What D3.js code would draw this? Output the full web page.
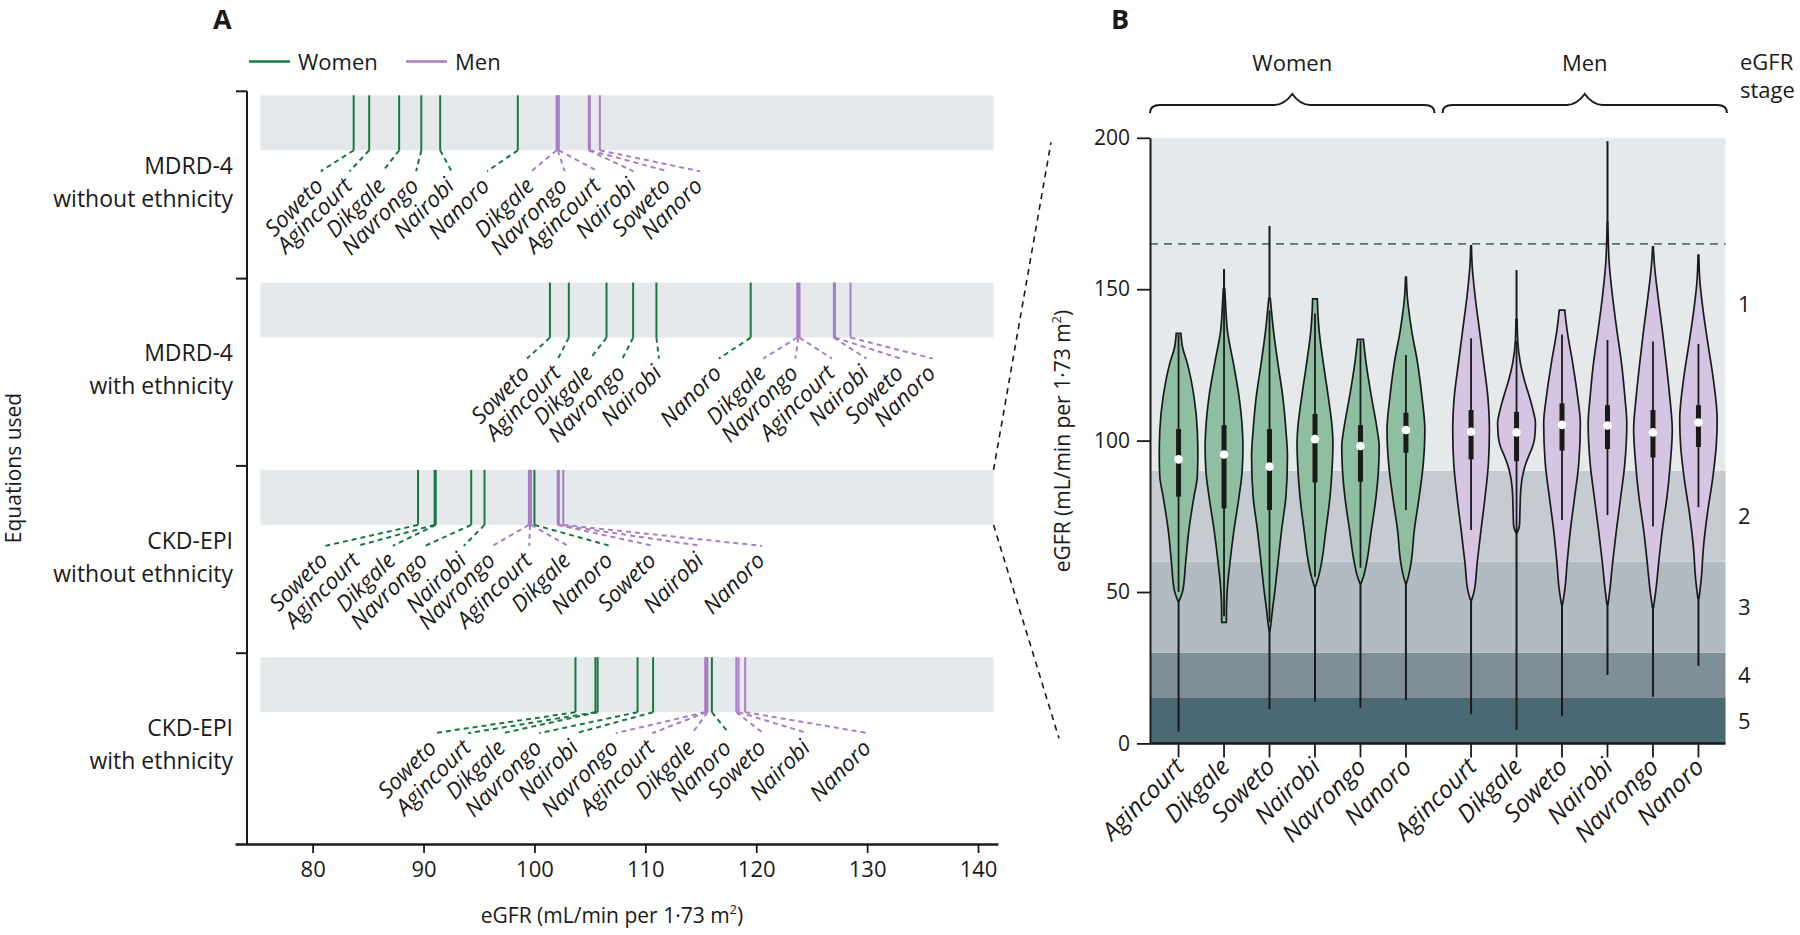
<!DOCTYPE html>
<html><head><meta charset="utf-8">
<script src="https://cdn.jsdelivr.net/npm/d3@7"></script>
<style>
body{margin:0;background:#fff}
svg text{font-family:'Open Sans','Noto Sans',sans-serif;fill:#1a1a1a}
</style></head>
<body><svg id="c" width="1800" height="935"></svg>
<script>
// ---------------- DATA ----------------
const equationLines = [["MDRD-4","without ethnicity"],["MDRD-4","with ethnicity"],["CKD-EPI","without ethnicity"],["CKD-EPI","with ethnicity"]];
const siteNames = ["Agincourt","Dikgale","Soweto","Nairobi","Navrongo","Nanoro"];
const sexNames = ["Women","Men"];
const xTicksA = [80,90,100,110,120,130,140];
// Panel A: mean eGFR per site (order = siteNames), one row per equation
const womenMeanA = [
  [85.1, 87.8, 83.7, 91.5, 89.8, 98.5],
  [103.1,106.5,101.4,111.0,108.9,119.5],
  [91.0, 91.1, 89.5, 95.5, 94.3, 100.0],
  [105.5,105.7,103.7,110.7,109.3,116.0]
];
const menMeanA = [
  [102.2,102.0,105.0,104.9,102.1,105.9],
  [123.9,123.7,127.1,127.0,123.8,128.5],
  [99.6, 99.7, 102.1,102.2,99.5, 102.6],
  [115.5,115.6,118.2,118.4,115.4,119.0]
];
// where each label sits (eGFR units), in ascending order of value
const labelAnchorA = [
  [81.0,83.6,86.6,89.6,92.8,96.0,100.0,103.0,106.0,109.2,112.3,115.2],
  [99.6,102.4,105.3,108.2,111.5,116.9,120.9,123.8,127.1,130.2,133.3,136.2],
  [81.4,84.3,87.5,90.4,93.9,96.5,99.8,103.3,107.1,111.0,115.3,120.8],
  [91.2,94.3,97.4,100.7,104.0,107.6,110.9,114.5,117.8,120.9,124.9,130.4]
];
// Panel B: CKD-EPI without ethnicity distributions (order = siteNames)
const yTicksB = [0,50,100,150,200];
const stageBreaks = [0,15,30,60,90,200];
const stageNames = ["5","4","3","2","1"];
const hyperfiltration = 165;
const womenMedian = [93.8,95.4,91.4,100.5,98.2,103.5];
const womenQ1 = [81.5,77.6,77.1,86.2,86.4,96.0];
const womenQ3 = [103.8,105.1,103.8,108.8,105.1,109.2];
const womenWhiskLo = [50,42,40,55,58,77.1];
const womenWhiskHi = [135,156.6,143,142,133,128.3];
const womenMin = [3.9,40,11.3,13.8,11.8,14.3];
const womenMax = [135.4,156.6,170.9,146.8,133.4,154.1];
const menMedian = [102.9,102.7,105.2,105.0,102.7,106.0];
const menQ1 = [93.8,93.2,96.7,97.2,94.4,97.9];
const menQ3 = [110.1,109.5,112.3,111.7,110.1,111.7];
const menWhiskLo = [70.5,69.5,73.8,75.4,71.6,78];
const menWhiskHi = [133.8,133,135,133.2,132.7,131.9];
const menMin = [9.6,4.4,9.0,22.6,15.4,25.6];
const menMax = [164.6,156.3,143.1,198.9,164,161.6];
// violin outlines: [eGFR, relative density]
const womenProfiles = [
  [[135.4,0.12],[131,0.2],[125.5,0.45],[114.5,0.79],[103.5,0.96],[95,0.99],[88,0.96],[81.5,0.79],[70.5,0.53],[59.5,0.36],[50.6,0.22],[48,0.09],[47,0.02]],
  [[150,0.04],[145,0.08],[136.5,0.17],[125.5,0.48],[114.5,0.77],[103.5,0.94],[98,0.97],[90,0.93],[81.5,0.77],[70.5,0.51],[59.5,0.3],[52,0.18],[46,0.13],[40,0.12]],
  [[147,0.04],[136.5,0.2],[125.5,0.43],[114.5,0.68],[103.5,0.84],[94.7,0.92],[81.5,0.84],[70.5,0.62],[59.5,0.43],[50.6,0.28],[44,0.15],[40,0.08],[37,0.02]],
  [[146.8,0.12],[142,0.15],[136.5,0.21],[125.5,0.43],[114.5,0.68],[103.5,0.89],[99,0.92],[90,0.87],[81.5,0.77],[70.5,0.56],[59.5,0.33],[55,0.18],[52,0.04]],
  [[133.4,0.15],[125.5,0.29],[114.5,0.56],[103.5,0.86],[98,0.96],[90,0.92],[81.5,0.8],[70.5,0.56],[59.5,0.31],[55,0.15],[53,0.04]],
  [[154,0.02],[147.5,0.07],[136.5,0.29],[125.5,0.6],[114.5,0.82],[103.5,0.97],[92.5,0.89],[81.5,0.68],[70.5,0.43],[59.5,0.26],[55,0.12],[53,0.03]]
];
const menProfiles = [
  [[164,0.02],[158.5,0.05],[147.5,0.21],[136.5,0.43],[125.5,0.65],[114.5,0.86],[103.5,0.94],[92.5,0.89],[81.5,0.72],[70.5,0.51],[59.5,0.31],[50.6,0.17],[47.5,0.04]],
  [[140,0.03],[133,0.06],[125.5,0.2],[120,0.4],[114.5,0.66],[110,0.85],[105.7,0.97],[101,0.93],[98,0.82],[95,0.63],[92.5,0.48],[88,0.3],[84,0.22],[78,0.18],[72,0.15],[69.4,0.02]],
  [[143.1,0.14],[136.5,0.26],[125.5,0.55],[114.5,0.8],[105.7,0.94],[92.5,0.86],[81.5,0.65],[70.5,0.43],[59.5,0.26],[50.6,0.14],[46,0.03]],
  [[172,0.02],[158.5,0.09],[147.5,0.26],[136.5,0.48],[125.5,0.72],[114.5,0.89],[105.7,0.99],[92.5,0.89],[81.5,0.68],[70.5,0.46],[59.5,0.26],[50.6,0.12],[46,0.03]],
  [[164,0.02],[158.5,0.07],[147.5,0.26],[136.5,0.48],[125.5,0.68],[114.5,0.86],[103.5,0.99],[92.5,0.89],[81.5,0.72],[70.5,0.48],[59.5,0.29],[50.6,0.15],[45,0.03]],
  [[161,0.02],[153,0.07],[142,0.26],[131,0.51],[120,0.77],[106.8,0.96],[98,0.91],[87,0.72],[76,0.46],[65,0.26],[54,0.14],[48,0.03]]
];

// ---------------- STYLE ----------------
const GREEN = "#17793f", PURPLE = "#a87fc4", BAND = "#e6e9ec";
const stageColors = ["#4b6973","#7e8f98","#b2bbc1","#c5cbd1","#e6e9ec"];
const violinFill = {Women:"#8fbfa3", Men:"#d5c5e3"};
const INK = "#1a1a1a";

const svg = d3.select("#c");

// ================= PANEL A =================
const xA = d3.scaleLinear().domain([73,141.8]).range([235,998]);
const rowBand = d3.scaleBand().domain(d3.range(4)).range([91.3,840.5]);
const bandH = 55, bandOff = 4, leadDrop = 21;
const A = svg.append("g");

A.append("text").attr("x",213).attr("y",29).attr("font-size",27).attr("font-weight",700).text("A");

// legend
const leg = A.append("g");
[["Women",GREEN,249],["Men",PURPLE,406]].forEach(([t,c,x])=>{
  leg.append("line").attr("x1",x).attr("x2",x+41).attr("y1",61.5).attr("y2",61.5).attr("stroke",c).attr("stroke-width",2.5);
  leg.append("text").attr("x",x+49).attr("y",69.5).attr("font-size",22).text(t);
});

equationLines.forEach((eq,i)=>{
  const top = rowBand(i)+bandOff, bot = top+bandH;
  A.append("rect").attr("x",xA(75.3)).attr("width",xA(141.4)-xA(75.3)).attr("y",top).attr("height",bandH).attr("fill",BAND);
  const items = siteNames.map((s,j)=>({site:s,sex:"Women",v:womenMeanA[i][j]}))
     .concat(siteNames.map((s,j)=>({site:s,sex:"Men",v:menMeanA[i][j]})))
     .sort((a,b)=>a.v-b.v);
  items.forEach((d,k)=>d.anchor = labelAnchorA[i][k]);
  const gi = A.append("g");
  gi.selectAll("line.lead").data(items).join("line")
    .attr("x1",d=>xA(d.v)).attr("y1",bot).attr("x2",d=>xA(d.anchor)-3).attr("y2",bot+leadDrop)
    .attr("stroke",d=>d.sex==="Women"?GREEN:PURPLE).attr("stroke-width",2).attr("stroke-dasharray","5,4");
  gi.selectAll("line.val").data(items).join("line")
    .attr("x1",d=>xA(d.v)).attr("x2",d=>xA(d.v)).attr("y1",top).attr("y2",bot)
    .attr("stroke",d=>d.sex==="Women"?GREEN:PURPLE).attr("stroke-width",2);
  gi.selectAll("text").data(items).join("text")
    .attr("transform",d=>`translate(${xA(d.anchor)+1},${bot+leadDrop+16}) rotate(-45)`)
    .attr("text-anchor","end").attr("font-size",22.5).attr("font-style","italic").text(d=>d.site);
  const cy = rowBand(i)+rowBand.bandwidth()/2;
  A.append("text").attr("x",233).attr("y",cy-11).attr("text-anchor","end").attr("font-size",23).text(eq[0]);
  A.append("text").attr("x",233).attr("y",cy+22).attr("text-anchor","end").attr("font-size",23).text(eq[1]);
});

// y axis of A
A.append("line").attr("x1",247).attr("x2",247).attr("y1",rowBand(0)).attr("y2",844).attr("stroke",INK).attr("stroke-width",2);
A.selectAll("line.yt").data(d3.range(4)).join("line").attr("class","yt")
  .attr("x1",236).attr("x2",247).attr("y1",d=>rowBand(d)).attr("y2",d=>rowBand(d)).attr("stroke",INK).attr("stroke-width",2);
A.append("text").attr("transform","translate(21,468) rotate(-90)").attr("text-anchor","middle").attr("font-size",21).text("Equations used");

// x axis of A
const axA = A.append("g").attr("transform","translate(0,844)")
  .call(d3.axisBottom(xA).tickValues(xTicksA).tickSize(9).tickSizeOuter(0).tickPadding(8));
axA.select(".domain").attr("stroke",INK).attr("stroke-width",2.5);
axA.selectAll(".tick line").attr("stroke",INK).attr("stroke-width",1.8);
axA.selectAll(".tick text").attr("font-size",22).attr("font-family","'Open Sans',sans-serif").attr("fill",INK);
const tA = A.append("text").attr("x",612).attr("y",923).attr("text-anchor","middle").attr("font-size",21);
tA.append("tspan").text("eGFR (mL/min per 1·73 m");
tA.append("tspan").attr("font-size",13).attr("dy",-9).text("2");
tA.append("tspan").attr("dy",9).text(")");

// ================= PANEL B =================
const plotL = 1150, plotR = 1725.5;
const yB = d3.scaleLinear().domain([0,200]).range([743.4,137.8]);
const groupX = d3.scaleBand().domain(sexNames).range([1146,1731]);
const siteX = d3.scalePoint().domain(siteNames).range([0,groupX.bandwidth()]).padding(0.716);
const wScale = d3.scaleLinear().domain([0,1]).range([0,19.5]);
const B = svg.append("g");
B.append("text").attr("x",1111).attr("y",29).attr("font-size",27).attr("font-weight",700).text("B");

// stage bands
stageNames.forEach((s,i)=>{
  B.append("rect").attr("x",plotL).attr("width",plotR-plotL)
    .attr("y",yB(stageBreaks[i+1])).attr("height",yB(stageBreaks[i])-yB(stageBreaks[i+1])).attr("fill",stageColors[i]);
  B.append("text").attr("x",1738).attr("y",(yB(stageBreaks[i])+yB(stageBreaks[i+1]))/2+8).attr("font-size",22).text(s);
});
B.append("text").attr("x",1740).attr("y",70).attr("font-size",22).text("eGFR");
B.append("text").attr("x",1740).attr("y",98).attr("font-size",22).text("stage");
B.append("line").attr("x1",plotL).attr("x2",plotR).attr("y1",yB(hyperfiltration)).attr("y2",yB(hyperfiltration))
  .attr("stroke","#4f7077").attr("stroke-width",1.8).attr("stroke-dasharray","8,6");

// violins
const sexData = {
  Women:{prof:womenProfiles,med:womenMedian,q1:womenQ1,q3:womenQ3,wlo:womenWhiskLo,whi:womenWhiskHi,mn:womenMin,mx:womenMax},
  Men:{prof:menProfiles,med:menMedian,q1:menQ1,q3:menQ3,wlo:menWhiskLo,whi:menWhiskHi,mn:menMin,mx:menMax}
};
sexNames.forEach(sx=>{
  const D = sexData[sx];
  siteNames.forEach((s,j)=>{
    const cx = groupX(sx)+siteX(s);
    const prof = D.prof[j];
    const area = d3.area().curve(d3.curveMonotoneY)
      .y(d=>yB(d[0])).x0(d=>cx-wScale(d[1])).x1(d=>cx+wScale(d[1]));
    const g = B.append("g");
    const topV = prof[0][0], botV = prof[prof.length-1][0];
    if (D.mx[j] > topV) g.append("line").attr("x1",cx).attr("x2",cx).attr("y1",yB(D.mx[j])).attr("y2",yB(topV)).attr("stroke",INK).attr("stroke-width",2);
    if (D.mn[j] < botV) g.append("line").attr("x1",cx).attr("x2",cx).attr("y1",yB(botV)).attr("y2",yB(D.mn[j])).attr("stroke",INK).attr("stroke-width",2);
    g.append("path").attr("d",area(prof)).attr("fill",violinFill[sx]).attr("stroke",INK).attr("stroke-width",1.7);
    g.append("line").attr("x1",cx).attr("x2",cx).attr("y1",yB(D.whi[j])).attr("y2",yB(D.wlo[j])).attr("stroke",INK).attr("stroke-width",1.8);
    g.append("line").attr("x1",cx).attr("x2",cx).attr("y1",yB(D.q3[j])).attr("y2",yB(D.q1[j])).attr("stroke",INK).attr("stroke-width",5);
    g.append("circle").attr("cx",cx).attr("cy",yB(D.med[j])).attr("r",4.3).attr("fill","#fff");
  });
  // braces
  const x0 = groupX(sx)+4, x1 = groupX(sx)+groupX.bandwidth()-4, xm = (x0+x1)/2;
  const yb = 113, yf = 105, yp = 94;
  B.append("path").attr("d",`M${x0},${yb} Q${x0},${yf} ${x0+10},${yf} L${xm-18},${yf} Q${xm-8},${yf} ${xm},${yp} Q${xm+8},${yf} ${xm+18},${yf} L${x1-10},${yf} Q${x1},${yf} ${x1},${yb}`)
    .attr("fill","none").attr("stroke",INK).attr("stroke-width",2);
  B.append("text").attr("x",xm).attr("y",71).attr("text-anchor","middle").attr("font-size",22).text(sx);
});

// B axes
const axBy = B.append("g").attr("transform",`translate(${plotL},0)`)
  .call(d3.axisLeft(yB).tickValues(yTicksB).tickSize(13).tickSizeOuter(0).tickPadding(7));
axBy.select(".domain").attr("stroke",INK).attr("stroke-width",2);
axBy.selectAll(".tick line").attr("stroke",INK).attr("stroke-width",1.8);
axBy.selectAll(".tick text").attr("font-size",21).attr("font-family","'Open Sans',sans-serif").attr("fill",INK);
B.append("line").attr("x1",plotL).attr("x2",plotR).attr("y1",yB(0)).attr("y2",yB(0)).attr("stroke",INK).attr("stroke-width",2.5);
sexNames.forEach(sx=>{
  siteNames.forEach(s=>{
    const cx = groupX(sx)+siteX(s);
    B.append("line").attr("x1",cx).attr("x2",cx).attr("y1",yB(0)).attr("y2",yB(0)+14).attr("stroke",INK).attr("stroke-width",1.8);
    B.append("text").attr("transform",`translate(${cx+7},${yB(0)+25}) rotate(-45)`).attr("text-anchor","end")
      .attr("font-size",24.5).attr("font-style","italic").text(s);
  });
});
const tB = B.append("text").attr("transform","translate(1070,441) rotate(-90)").attr("text-anchor","middle").attr("font-size",21);
tB.append("tspan").text("eGFR (mL/min per 1·73 m");
tB.append("tspan").attr("font-size",13).attr("dy",-9).text("2");
tB.append("tspan").attr("dy",9).text(")");

// zoom connectors between panels (row 3 band -> panel B range)
const r3top = rowBand(2)+bandOff, r3bot = r3top+bandH;
svg.append("line").attr("x1",xA(141.4)).attr("y1",r3top).attr("x2",plotL-99).attr("y2",yB(198.5))
  .attr("stroke",INK).attr("stroke-width",1.6).attr("stroke-dasharray","6,5");
svg.append("line").attr("x1",xA(141.4)).attr("y1",r3bot).attr("x2",plotL-91).attr("y2",yB(1.7))
  .attr("stroke",INK).attr("stroke-width",1.6).attr("stroke-dasharray","6,5");
</script></body></html>
